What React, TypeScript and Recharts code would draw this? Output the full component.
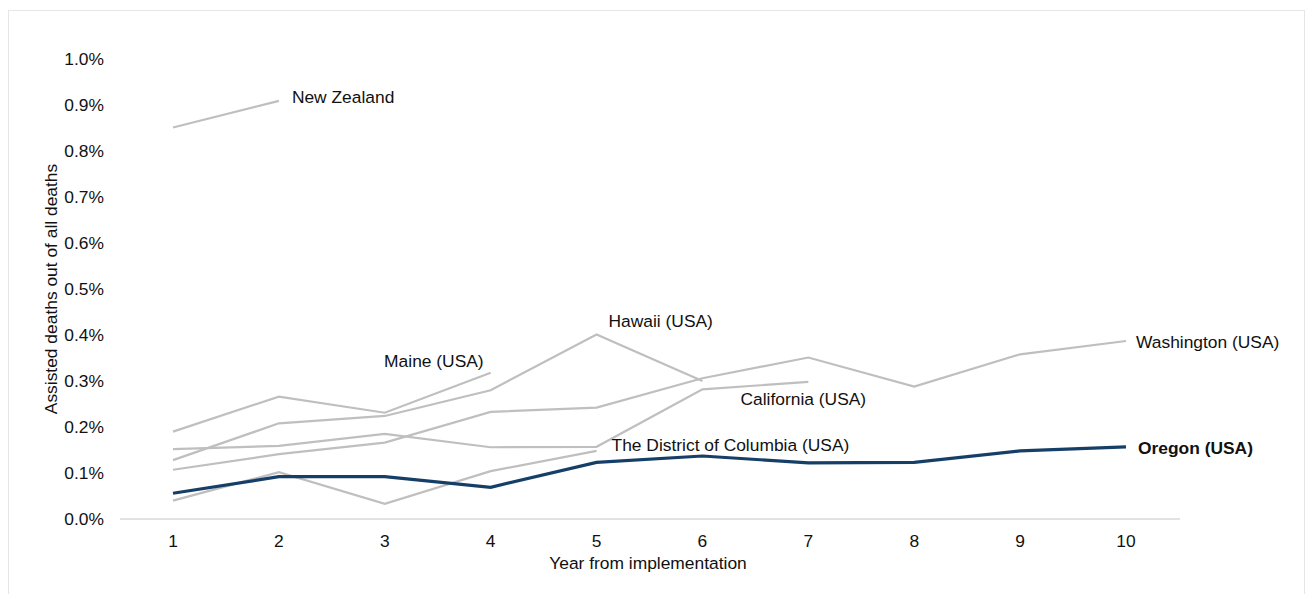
import { Line, LineChart, XAxis, YAxis, Label } from "recharts";

// years since the law took effect
const years = [1, 2, 3, 4, 5, 6, 7, 8, 9, 10];

// assisted deaths as % of all deaths (null = no data yet)
const newZealand = [0.851, 0.909, null, null, null, null, null, null, null, null];
const maine = [0.19, 0.266, 0.231, 0.318, null, null, null, null, null, null];
const hawaii = [0.128, 0.208, 0.224, 0.28, 0.401, 0.3, null, null, null, null];
const california = [0.152, 0.159, 0.185, 0.156, 0.157, 0.282, 0.298, null, null, null];
const districtOfColumbia = [0.04, 0.102, 0.033, 0.104, 0.148, null, null, null, null, null];
const washington = [0.107, 0.141, 0.166, 0.233, 0.242, 0.306, 0.351, 0.288, 0.358, 0.387];
const oregon = [0.056, 0.092, 0.092, 0.069, 0.123, 0.137, 0.122, 0.123, 0.148, 0.157];

const yTicks = [0, 0.1, 0.2, 0.3, 0.4, 0.5, 0.6, 0.7, 0.8, 0.9, 1.0];

const data = years.map((y, i) => ({
  year: y,
  nz: newZealand[i],
  me: maine[i],
  hi: hawaii[i],
  ca: california[i],
  dc: districtOfColumbia[i],
  wa: washington[i],
  or: oregon[i],
}));

const FONT = '"Liberation Sans", Arial, sans-serif';
const FS = 17.4;
const GRAY = "#bfbfbf";
const NAVY = "#163f68";

// draws the series name next to one chosen point of the line
function seriesLabel(
  text: string,
  at: number,
  dx: number,
  dy: number,
  anchor: "start" | "middle" | "end" = "start",
  bold = false
) {
  return (p: any) => {
    if (p.index !== at || p.x == null || p.y == null) return <g key={`e${p.index}`} />;
    return (
      <text
        key={`l${p.index}`}
        x={p.x + dx}
        y={p.y + dy}
        textAnchor={anchor}
        dominantBaseline="central"
        fontSize={FS}
        fontFamily={FONT}
        fontWeight={bold ? 700 : 400}
        fill="#111"
      >
        {text}
      </text>
    );
  };
}

export default function App() {
  return (
    <div
      style={{
        position: "absolute",
        left: 0,
        top: 0,
        width: 1307,
        height: 594,
        overflow: "hidden",
        background: "#fff",
        fontFamily: FONT,
      }}
    >
      <div
        style={{
          position: "absolute",
          left: 8,
          top: 10,
          width: 1297,
          height: 620,
          border: "1.5px solid #e6e6e6",
          boxSizing: "border-box",
        }}
      />
      <LineChart
        width={1307}
        height={594}
        data={data}
        margin={{ top: 59, right: 127, left: 0, bottom: 0 }}
        style={{ position: "absolute", left: 0, top: 0 }}
      >
        <XAxis
          dataKey="year"
          height={75}
          padding={{ left: 53, right: 54 }}
          tickLine={false}
          tickSize={0}
          tickMargin={16}
          axisLine={{ stroke: "#d9d9d9", strokeWidth: 1.5 }}
          tick={{ fontSize: FS, fill: "#111", fontFamily: FONT }}
        >
          <Label
            value="Year from implementation"
            position="insideBottom"
            offset={25}
            dx={-2}
            style={{ fontSize: FS, fill: "#111", fontFamily: FONT }}
          />
        </XAxis>
        <YAxis
          width={120}
          domain={[0, 1]}
          ticks={yTicks}
          interval={0}
          axisLine={false}
          tickLine={false}
          tickSize={0}
          tickMargin={16}
          tickFormatter={(v) => `${Number(v).toFixed(1)}%`}
          tick={{ fontSize: FS, fill: "#111", fontFamily: FONT }}
        >
          <Label
            value="Assisted deaths out of all deaths"
            angle={-90}
            position="insideLeft"
            offset={51}
            style={{ fontSize: FS, fill: "#111", fontFamily: FONT, textAnchor: "middle" }}
          />
        </YAxis>
        <Line dataKey="nz" stroke={GRAY} strokeWidth={2.2} dot={false} isAnimationActive={false}
          label={seriesLabel("New Zealand", 1, 13, -4)} />
        <Line dataKey="me" stroke={GRAY} strokeWidth={2.2} dot={false} isAnimationActive={false}
          label={seriesLabel("Maine (USA)", 3, -7, -12, "end")} />
        <Line dataKey="hi" stroke={GRAY} strokeWidth={2.2} dot={false} isAnimationActive={false}
          label={seriesLabel("Hawaii (USA)", 4, 12, -14)} />
        <Line dataKey="ca" stroke={GRAY} strokeWidth={2.2} dot={false} isAnimationActive={false}
          label={seriesLabel("California (USA)", 6, -5, 17, "middle")} />
        <Line dataKey="dc" stroke={GRAY} strokeWidth={2.2} dot={false} isAnimationActive={false}
          label={seriesLabel("The District of Columbia (USA)", 4, 15, -6)} />
        <Line dataKey="wa" stroke={GRAY} strokeWidth={2.2} dot={false} isAnimationActive={false}
          label={seriesLabel("Washington (USA)", 9, 10, 1)} />
        <Line dataKey="or" stroke={NAVY} strokeWidth={3.2} dot={false} isAnimationActive={false}
          label={seriesLabel("Oregon (USA)", 9, 12, 1, "start", true)} />
      </LineChart>
    </div>
  );
}
